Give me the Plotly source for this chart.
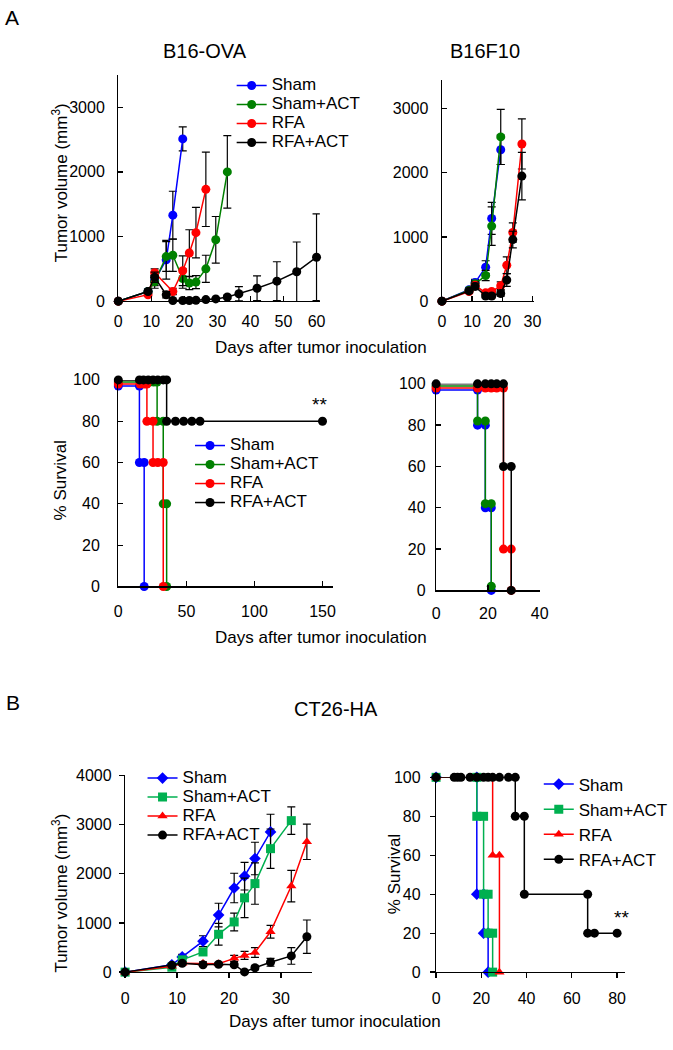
import plotly.graph_objects as go

W, H = 673, 1050
FONT = "Liberation Sans, Arial, sans-serif"
names = ["Sham", "Sham+ACT", "RFA", "RFA+ACT"]
colA = ["#0000FF", "#008000", "#FF0000", "#000000"]
colB = ["#0000FF", "#00B050", "#FF0000", "#000000"]
symB = ["diamond", "square", "triangle-up", "circle"]

# ---------- A: B16-OVA tumor volume ----------
ova_days = [
    [0, 9, 11, 14.5, 16.5, 19.5],
    [0, 9, 11, 14.5, 16.5, 19.5, 21.5, 23.5, 26.5, 29.5, 33],
    [0, 9, 11, 16.5, 19.5, 21.5, 23.5, 26.5],
    [0, 9, 11, 14.5, 16.5, 19.5, 21.5, 23.5, 26.5, 29.5, 33, 36.5, 42, 48, 54, 60],
]
ova_vol = [
    [0, 150, 320, 640, 1330, 2510],
    [0, 150, 300, 690, 710, 350, 280, 295, 500, 950, 2000],
    [0, 100, 440, 150, 470, 745, 1060, 1730],
    [0, 150, 370, 100, 10, 10, 10, 15, 25, 35, 65, 115, 200, 310, 455, 680],
]
ova_err = [
    [0, 30, 80, 300, 370, 185],
    [0, 30, 100, 230, 250, 150, 100, 100, 210, 360, 560],
    [0, 20, 60, 50, 230, 360, 390, 575],
    [0, 30, 80, 50, 0, 0, 0, 0, 0, 0, 30, 110, 190, 300, 460, 670],
]

# ---------- A: B16F10 tumor volume ----------
f10_days = [
    [0, 9, 11, 14.5, 16.5, 19.5],
    [0, 9, 11, 14.5, 16.5, 19.5],
    [0, 9, 11, 14.5, 16.5, 19.5, 21.5, 23.5, 26.5],
    [0, 9, 11, 14.5, 16.5, 19.5, 21.5, 23.5, 26.5],
]
f10_vol = [
    [0, 180, 290, 530, 1290, 2360],
    [0, 170, 270, 400, 1170, 2560],
    [0, 150, 250, 130, 150, 240, 560, 1070, 2450],
    [0, 160, 230, 80, 80, 120, 330, 960, 1950],
]
f10_err = [
    [0, 30, 50, 100, 250, 230],
    [0, 30, 50, 80, 300, 430],
    [0, 30, 50, 30, 30, 60, 130, 150, 390],
    [0, 30, 50, 30, 30, 40, 100, 130, 370],
]

# ---------- A: B16-OVA survival ----------
ova_s_days = [
    [0, 15.5, 15.5, 19, 19],
    [0, 16, 19, 21, 23, 26, 28.5, 28.5, 33, 33, 35.5, 35.5],
    [0, 16, 19, 21, 21, 25.5, 25.5, 29, 33, 33],
    [0, 15.5, 18.5, 22, 25.5, 29, 33, 35.5, 35.5, 42, 48, 54, 60, 150],
]
ova_s_pct = [
    [97, 97, 60, 60, 0],
    [99, 99, 99, 99, 99, 99, 99, 80, 80, 40, 40, 0],
    [98, 98, 98, 98, 80, 80, 60, 60, 60, 0],
    [100, 100, 100, 100, 100, 100, 100, 100, 80, 80, 80, 80, 80, 80],
]

# ---------- A: B16F10 survival ----------
f10_s_days = [
    [0, 16, 16, 19, 19, 21.3, 21.3],
    [0, 16, 16, 19, 19, 21.3, 21.3],
    [0, 16, 19, 21.3, 23.4, 26, 26, 29, 29],
    [0, 16, 19, 21.3, 23.4, 26, 26, 29, 29],
]
f10_s_pct = [
    [97, 97, 80, 80, 40, 40, 0],
    [99, 99, 82, 82, 42, 42, 2],
    [98, 98, 98, 98, 98, 98, 20, 20, 0],
    [100, 100, 100, 100, 100, 100, 60, 60, 0],
]

# ---------- B: CT26-HA tumor volume ----------
ct_days = [
    [0, 9, 11, 15, 18, 21, 23, 25, 28],
    [0, 9, 11, 15, 18, 21, 23, 25, 28, 32],
    [0, 9, 11, 15, 18, 21, 23, 25, 28, 32, 35],
    [0, 9, 11, 15, 18, 21, 23, 25, 28, 32, 35],
]
ct_vol = [
    [0, 150, 310, 630, 1160, 1710, 1950, 2310, 2850],
    [0, 100, 250, 410, 770, 1020, 1510, 1800, 2510, 3080],
    [0, 120, 180, 180, 170, 280, 340, 400, 820, 1750, 2650],
    [0, 140, 180, 150, 160, 150, 5, 90, 200, 330, 720],
]
ct_err = [
    [0, 30, 50, 110, 240, 300, 280, 330, 360],
    [0, 20, 40, 60, 220, 180, 400, 420, 400, 280],
    [0, 20, 30, 30, 30, 60, 80, 100, 130, 320, 360],
    [0, 20, 30, 30, 30, 30, 0, 40, 80, 170, 340],
]

# ---------- B: CT26-HA survival ----------
ct_s_days = [
    [0, 18, 18, 21, 21, 23, 23],
    [0, 18, 18, 21, 21, 23, 23, 25, 25],
    [0, 25, 25, 28, 28],
    [0, 8, 9.5, 11, 15, 18, 21, 23, 25, 28, 32, 35, 35, 39, 39, 67, 67, 70, 80],
]
ct_s_pct = [
    [100, 100, 40, 40, 20, 20, 0],
    [100, 100, 80, 80, 40, 40, 20, 20, 0],
    [100, 100, 60, 60, 0],
    [100, 100, 100, 100, 100, 100, 100, 100, 100, 100, 100, 100, 80, 80, 40, 40, 20, 20, 20],
]

fig = go.Figure()


def add(xs, ys, errs, cols, syms, sizes, xa, ya, legend, show, label_px=None):
    for i in range(4):
        kw = {}
        if errs is not None:
            kw["error_y"] = dict(type="data", array=errs[i], visible=True,
                                 color="black", thickness=1.2, width=4)
        nm = names[i]
        if label_px:
            nm = "<span style='font-size:%dpx'>%s</span>" % (label_px, nm)
        fig.add_trace(go.Scatter(
            x=xs[i], y=ys[i], mode="lines+markers", name=nm,
            line=dict(color=cols[i], width=1.5),
            marker=dict(color=cols[i], symbol=syms[i], size=sizes[i]),
            xaxis=xa, yaxis=ya, legend=legend, showlegend=show,
            cliponaxis=False, **kw))


circ = ["circle"] * 4
add(ova_days, ova_vol, ova_err, colA, circ, [9] * 4, "x", "y", "legend", True, 17)
add(f10_days, f10_vol, f10_err, colA, circ, [9] * 4, "x2", "y2", "legend", False)
add(ova_s_days, ova_s_pct, None, colA, circ, [9] * 4, "x3", "y3", "legend2", True, 17)
add(f10_s_days, f10_s_pct, None, colA, circ, [9] * 4, "x4", "y4", "legend2", False)
add(ct_days, ct_vol, ct_err, colB, symB, [9] * 4, "x5", "y5", "legend3", True, 17)
add(ct_s_days, ct_s_pct, None, colB, symB, [9] * 4, "x6", "y6", "legend4", True)


def px_x(a, b):
    return [a / W, b / W]


def px_y(top, bottom):
    return [1 - bottom / H, 1 - top / H]


def ax(domain, rng, dtick, anchor, ticks, standoff):
    return dict(domain=domain, range=rng, dtick=dtick, tick0=0, anchor=anchor,
                showline=True, linecolor="black", linewidth=1.3,
                ticks=ticks, ticklen=5, tickwidth=1.3, tickcolor="black",
                showgrid=False, zeroline=False, fixedrange=True,
                ticklabelstandoff=standoff,
                tickfont=dict(family=FONT, size=16, color="black"))


lay = dict(
    width=W, height=H, margin=dict(l=0, r=0, t=0, b=0),
    paper_bgcolor="white", plot_bgcolor="white",
    font=dict(family=FONT, color="black"),
    xaxis=ax(px_x(118, 326), [0, 61], 10, "y", "inside", 5),
    yaxis=ax(px_y(68, 298), [0, 3500], 1000, "x", "inside", 9),
    xaxis2=ax(px_x(452, 547), [0, 30.5], 10, "y2", "inside", 5),
    yaxis2=ax(px_y(73, 298), [0, 3450], 1000, "x2", "inside", 9),
    xaxis3=ax(px_x(118, 340), [0, 158], 50, "y3", "inside", 10),
    yaxis3=ax(px_y(378, 588), [0, 100], 20, "x3", "inside", 14),
    xaxis4=ax(px_x(446, 553), [0, 40], 20, "y4", "inside", 8),
    yaxis4=ax(px_y(382, 592), [0, 100], 20, "x4", "inside", 6),
    xaxis5=ax(px_x(125, 318), [0, 36], 10, "y5", "outside", 6),
    yaxis5=ax(px_y(780, 980), [0, 4000], 1000, "x5", "outside", 4),
    xaxis6=ax(px_x(446, 641), [0, 83.5], 20, "y6", "outside", 6),
    yaxis6=ax(px_y(782, 980), [0, 100], 20, "x6", "outside", 6),
)

leg = lambda x, y, fs: dict(x=x / W, y=1 - y / H, xanchor="left", yanchor="top",
                            bgcolor="rgba(0,0,0,0)", font=dict(family=FONT, size=fs, color="black"),
                            tracegroupgap=0, itemclick=False, itemdoubleclick=False)
lay["legend"] = leg(235, 64, 12)
lay["legend2"] = leg(192, 430, 12)
lay["legend3"] = leg(143, 768, 12)
lay["legend4"] = leg(552, 771, 17)
fig.update_layout(**lay)

ann = []


def text(x, y, s, size, angle=0):
    ann.append(dict(x=x / W, y=1 - y / H, xref="paper", yref="paper", text=s,
                    showarrow=False, textangle=angle, xanchor="center", yanchor="middle",
                    font=dict(family=FONT, size=size, color="black")))


text(8, 10, "A", 21)
text(9, 706, "B", 21)
text(207, 44, "B16-OVA", 20)
text(497, 44, "B16F10", 20)
text(343, 713, "CT26-HA", 20)
text(58, 178, "Tumor volume (mm<sup>3</sup>)", 17, -90)
text(58, 480, "% Survival", 17, -90)
text(58, 900, "Tumor volume (mm<sup>3</sup>)", 17, -90)
text(403, 880, "% Survival", 17, -90)
text(327, 345, "Days after tumor inoculation", 17)
text(327, 640, "Days after tumor inoculation", 17)
text(342, 1030, "Days after tumor inoculation", 17)

# significance marks placed in data coordinates
ann.append(dict(x=148, y=88, xref="x3", yref="y3", text="**", showarrow=False,
                font=dict(family=FONT, size=19, color="black")))
ann.append(dict(x=82, y=28, xref="x6", yref="y6", text="**", showarrow=False,
                font=dict(family=FONT, size=19, color="black")))
fig.update_layout(annotations=ann)

fig.write_html("out.html", config={"displayModeBar": False, "staticPlot": True},
               post_script="document.body.style.margin='0';document.body.style.overflow='hidden';")
